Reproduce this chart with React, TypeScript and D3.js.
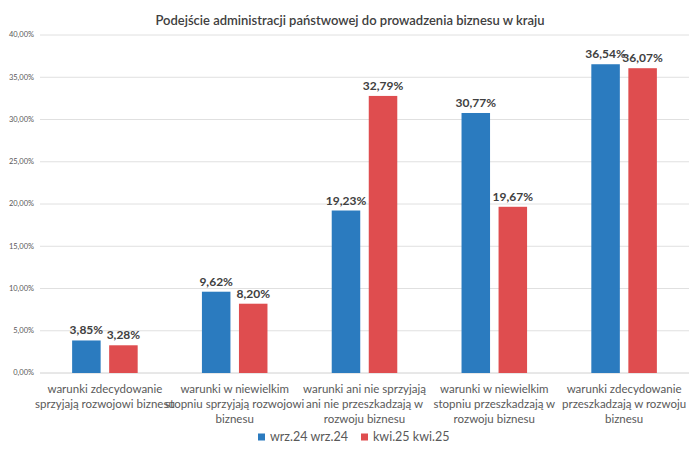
import * as React from 'react';
import * as d3 from 'd3';

// dane
const categories = [
    ['warunki zdecydowanie', 'sprzyjają rozwojowi biznesu'],
    ['warunki w niewielkim', 'stopniu sprzyjają rozwojowi', 'biznesu'],
    ['warunki ani nie sprzyjają', 'ani nie przeszkadzają w', 'rozwoju biznesu'],
    ['warunki w niewielkim', 'stopniu przeszkadzają w', 'rozwoju biznesu'],
    ['warunki zdecydowanie', 'przeszkadzają w rozwoju', 'biznesu'],
];
const seriesNames = ['wrz.24 wrz.24', 'kwi.25 kwi.25'];
const wrz24 = [3.85, 9.62, 19.23, 30.77, 36.54];
const kwi25 = [3.28, 8.2, 32.79, 19.67, 36.07];
const yTicks = [0, 5, 10, 15, 20, 25, 30, 35, 40];
const colors = ['#2b7bbf', '#df4d4f'];
const title = 'Podejście administracji państwowej do prowadzenia biznesu w kraju';

const W = 700;
const H = 457;
const margin = {top: 35, right: 11, bottom: 84, left: 40};
const font = "Lato, 'Open Sans', sans-serif";

const fmt = (v: number) => v.toFixed(2).replace('.', ',') + '%';

export default function App() {
    const x0 = d3.scaleBand<number>()
        .domain(d3.range(categories.length))
        .range([margin.left, W - margin.right])
        .paddingInner(0.495)
        .paddingOuter(0.2475);

    const x1 = d3.scaleBand<number>()
        .domain([0, 1])
        .range([0, x0.bandwidth()])
        .paddingInner(0.23);

    const y = d3.scaleLinear()
        .domain([0, 40])
        .range([H - margin.bottom, margin.top]);

    const series = [wrz24, kwi25];

    return (
        <div style={{margin: '-8px'}}>
            <svg width={W} height={H} style={{display: 'block', fontFamily: font}}>
                <rect x={0.5} y={0.5} width={W - 1} height={H - 2} fill="#fff" stroke="#d9d9d9" />
                <text x={W / 2} y={25} textAnchor="middle" fontSize={13} fontWeight={600} fill="#404040">
                    {title}
                </text>

                {yTicks.map(t => (
                    <g key={t}>
                        <line x1={margin.left} x2={W - margin.right} y1={y(t)} y2={y(t)}
                            stroke={t === 0 ? '#d0d0d0' : '#e0e0e0'} strokeWidth={1} />
                        <text x={margin.left - 6} y={y(t)} dy="0.32em" textAnchor="end"
                            fontSize={7.5} fill="#595959">{fmt(t)}</text>
                    </g>
                ))}

                {series.map((vals, s) => vals.map((v, i) => {
                    const bx = (x0(i) ?? 0) + (x1(s) ?? 0);
                    return (
                        <g key={s + '-' + i}>
                            <rect x={bx} y={y(v)} width={x1.bandwidth()} height={y(0) - y(v)} fill={colors[s]} />
                            <text x={bx + x1.bandwidth() / 2} y={y(v) - 6} textAnchor="middle"
                                fontSize={12} fontWeight={700} fill="#404040">{fmt(v)}</text>
                        </g>
                    );
                }))}

                {categories.map((lines, i) => (
                    <text key={i} textAnchor="middle" fontSize={11.5} fill="#595959">
                        {lines.map((l, j) => (
                            <tspan key={j} x={(x0(i) ?? 0) + x0.bandwidth() / 2} y={393 + j * 15}>{l}</tspan>
                        ))}
                    </text>
                ))}

                {seriesNames.map((n, s) => (
                    <g key={n} transform={`translate(${258 + s * 103}, 437)`}>
                        <rect x={0} y={-3.5} width={7} height={7} fill={colors[s]} />
                        <text x={12} y={0} dy="0.35em" fontSize={12.5} fill="#595959">{n}</text>
                    </g>
                ))}
            </svg>
        </div>
    );
}
